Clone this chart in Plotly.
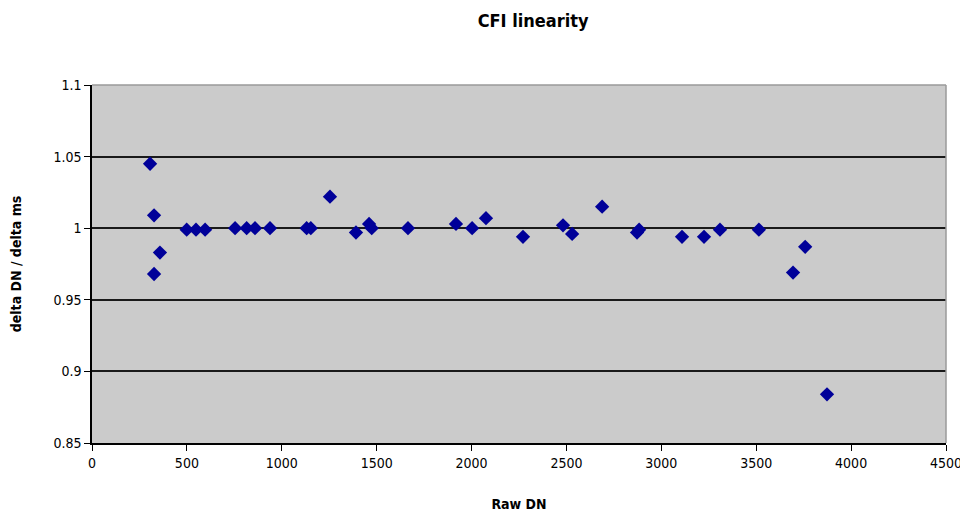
import plotly.graph_objects as go

raw_dn = [306, 327, 327, 358, 499, 548, 596, 754, 815, 859, 938, 1131, 1153,
          1254, 1391, 1460, 1474, 1665, 1918, 2003, 2076, 2271, 2482, 2530,
          2688, 2872, 2883, 3109, 3225, 3309, 3514, 3694, 3758, 3873]
ratio = [1.045, 1.009, 0.968, 0.983, 0.999, 0.999, 0.999, 1.000, 1.000, 1.000,
         1.000, 1.000, 1.000, 1.022, 0.997, 1.003, 1.000, 1.000, 1.003, 1.000,
         1.007, 0.994, 1.002, 0.996, 1.015, 0.997, 0.999, 0.994, 0.994, 0.999,
         0.999, 0.969, 0.987, 0.884]

x_ticks = [0, 500, 1000, 1500, 2000, 2500, 3000, 3500, 4000, 4500]
y_ticks = [0.85, 0.9, 0.95, 1.0, 1.05, 1.1]

font_main = "DejaVu Sans Condensed, Liberation Sans Narrow, Arial Narrow, sans-serif"

fig = go.Figure()
fig.add_trace(go.Scatter(
    x=raw_dn, y=ratio, mode="markers",
    marker=dict(symbol="diamond", size=11, color="#000099",
                line=dict(width=0)),
    showlegend=False,
))

fig.update_layout(
    width=960, height=509,
    margin=dict(l=84, r=22, t=77, b=74),
    paper_bgcolor="white",
    plot_bgcolor="#CBCBCB",
    title=dict(text="<b>CFI linearity</b>", x=0.547, xanchor="center",
               y=0.975, yanchor="middle",
               font=dict(family=font_main, size=18, color="black")),
    font=dict(family=font_main, size=14, color="black"),
)
fig.update_xaxes(
    range=[0, 4500], tickvals=x_ticks, ticks="outside", ticklen=6,
    tickcolor="black", showline=True, linecolor="black", linewidth=1.5,
    showgrid=False, zeroline=False, mirror=False, automargin=False,
    title=dict(text="<b>Raw DN</b>", standoff=30,
               font=dict(family=font_main, size=14)),
    tickfont=dict(family=font_main, size=14),
)
fig.update_yaxes(
    range=[0.85, 1.1], tickvals=y_ticks, ticks="outside", ticklen=6,
    tickcolor="black", showline=True, linecolor="black", linewidth=1.5,
    showgrid=True, gridcolor="#1a1a1a", gridwidth=1.5, zeroline=False,
    automargin=False,
    title=dict(text="<b>delta DN / delta ms</b>", standoff=32,
               font=dict(family=font_main, size=14)),
    tickfont=dict(family=font_main, size=14),
)
fig.add_shape(type="line", xref="paper", yref="paper", x0=0, x1=1, y0=1, y1=1,
              line=dict(color="#9a9a9a", width=1.5))
fig.add_shape(type="line", xref="paper", yref="paper", x0=1, x1=1, y0=0, y1=1,
              line=dict(color="#9a9a9a", width=1.5))

fig.write_html("out.html")
